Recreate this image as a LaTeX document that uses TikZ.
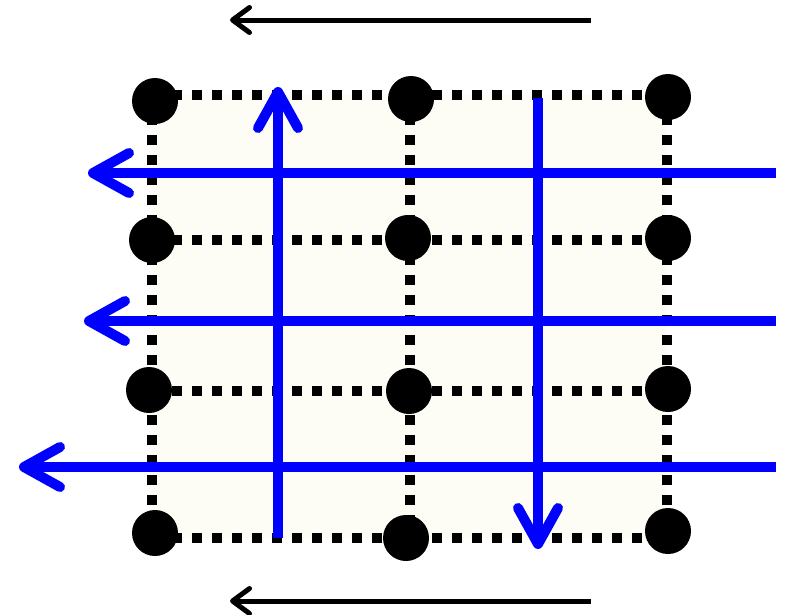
\documentclass[tikz,border=0pt]{standalone}
\usetikzlibrary{arrows.meta}
\definecolor{ivoryfill}{RGB}{253,253,245}
\definecolor{flowblue}{RGB}{0,0,255}
\tikzset{
  x=1pt, y=-1pt,
  gridline/.style={line width=10pt, dash pattern=on 10pt off 10pt, black},
  dotnode/.style={circle, fill=black, minimum size=46pt, inner sep=0pt},
  bluearrow/.style={line width=10pt, flowblue, -{Straight Barb[length=36pt, width=40pt, line cap=round, line join=round]}},
  blackarrow/.style={line width=5pt, black, -{Straight Barb[length=17pt, width=25pt, line cap=round, line join=round]}}
}
\begin{document}
\begin{tikzpicture}
\useasboundingbox (0,0) rectangle (785,614);
% grid line coordinates
\coordinate (t1) at (152,95);  \coordinate (t2) at (410,95);  \coordinate (t3) at (667,95);
\coordinate (u1) at (152,240); \coordinate (u3) at (667,240);
\coordinate (v1) at (152,391); \coordinate (v3) at (667,391);
\coordinate (b1) at (152,538); \coordinate (b2) at (410,538); \coordinate (b3) at (667,538);
\fill[ivoryfill] (t1) rectangle (b3);
% dotted grid
\draw[gridline] (t1) -- (t3);
\draw[gridline] (u1) -- (u3);
\draw[gridline] (v1) -- (v3);
\draw[gridline] (b1) -- (b3);
\draw[gridline] (t1) -- (b1);
\draw[gridline] (t2) -- (b2);
\draw[gridline] (t3) -- (b3);
% dots
\node[dotnode] (d11) at (155,101) {};
\node[dotnode] (d12) at (411,99) {};
\node[dotnode] (d13) at (668,97) {};
\node[dotnode] (d21) at (152,240) {};
\node[dotnode] (d22) at (408,238) {};
\node[dotnode] (d23) at (668,238) {};
\node[dotnode] (d31) at (149,390) {};
\node[dotnode] (d32) at (409,391) {};
\node[dotnode] (d33) at (668,389) {};
\node[dotnode] (d41) at (155,533) {};
\node[dotnode] (d42) at (406,538) {};
\node[dotnode] (d43) at (668,531) {};
% blue arrows
\coordinate (h1s) at (776,173); \coordinate (h1e) at (88,173);
\coordinate (h2s) at (776,321); \coordinate (h2e) at (84,321);
\coordinate (h3s) at (776,467); \coordinate (h3e) at (19,467);
\coordinate (vus) at (278,538); \coordinate (vue) at (278,87);
\coordinate (vds) at (538,98);  \coordinate (vde) at (538,549);
\draw[bluearrow] (h1s) -- (h1e);
\draw[bluearrow] (h2s) -- (h2e);
\draw[bluearrow] (h3s) -- (h3e);
\draw[bluearrow] (vus) -- (vue);
\draw[bluearrow] (vds) -- (vde);
% black arrows
\coordinate (ats) at (591,20); \coordinate (ate) at (230,20);
\coordinate (abs) at (591,601); \coordinate (abe) at (230,601);
\draw[blackarrow] (ats) -- (ate);
\draw[blackarrow] (abs) -- (abe);
\end{tikzpicture}
\end{document}
